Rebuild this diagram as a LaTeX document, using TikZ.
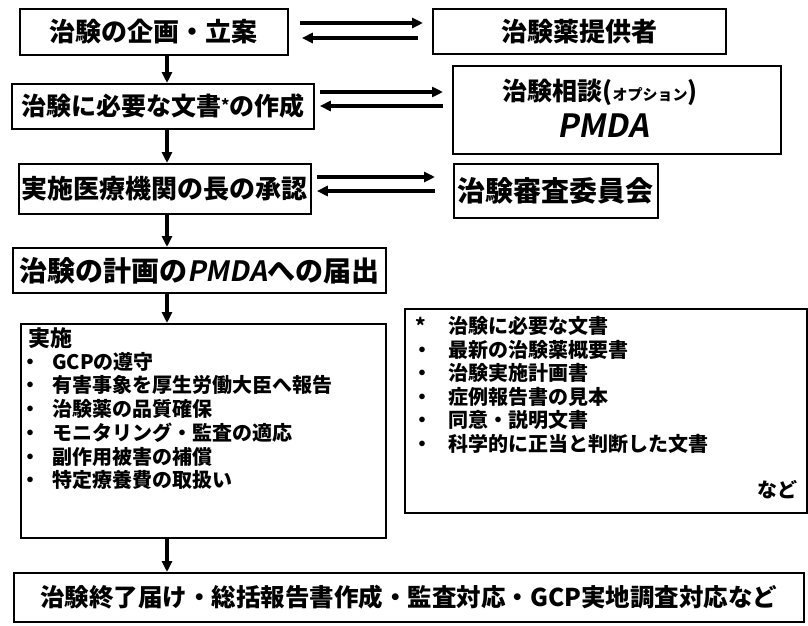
\documentclass[tikz,border=0pt]{standalone}
\usepackage{fontspec}
\setmainfont{Noto Sans CJK JP}[BoldFont={Noto Sans CJK JP Black}]
\newfontfamily\slantfont{Noto Sans CJK JP Black}[FakeSlant=0.18]
\usetikzlibrary{arrows.meta}
\tikzset{
  box/.style={draw, line width=1.8pt, inner sep=0pt, anchor=north west, align=center},
  arr/.style={line width=3.2pt, -{Triangle[length=11pt,width=10pt]}},
  fs/.style={font=\bfseries\fontsize{#1}{#1}\selectfont},
  item/.style={anchor=west, inner sep=0pt, font=\bfseries\fontsize{20}{20}\selectfont},
}
\newcommand{\bul}{\makebox[24pt][l]{\hspace{-8pt}・}}
\newcommand{\bulb}{\makebox[36pt][l]{・}}
\newcommand{\pmda}{{\slantfont PMDA}}
\begin{document}
\begin{tikzpicture}[x=1pt,y=-1pt]
\useasboundingbox (0,0) rectangle (808,626);
\fill[white] (0,0) rectangle (808,626);

\node[box, fs=26, minimum width=268pt, minimum height=46pt] (b1) at (19,8) {治験の企画・立案};
\node[box, fs=26, minimum width=293pt, minimum height=45pt] (b2) at (432,8) {治験薬提供者};
\node[box, fs=25, minimum width=302pt, minimum height=45pt] (b3) at (11,83)
  {治験に必要な文書{\fontsize{16}{16}\selectfont\raisebox{4pt}{*}}の作成};
\node[box, minimum width=328pt, minimum height=88pt] (b4) at (452,65) {};
\node[fs=25, inner sep=0pt] (b4a) at (600,92)
  {治験相談({\fontsize{15}{15}\selectfont オプション})};
\node[fs=32, inner sep=0pt] (b4b) at (603,126) {\pmda};
\node[box, fs=26, minimum width=292pt, minimum height=50pt] (b5) at (18,163) {実施医療機関の長の承認};
\node[box, fs=28, minimum width=204pt, minimum height=54pt] (b6) at (453,163) {治験審査委員会};
\node[box, fs=28, minimum width=373pt, minimum height=45pt] (b7) at (12,247) {治験の計画の\pmda への届出};

\node[box, minimum width=365pt, minimum height=214pt] (b8) at (20,323) {};
\node[item, font=\bfseries\fontsize{22}{22}\selectfont] (b8h) at (28,338) {実施};
\foreach \t [count=\i] in {GCPの遵守, 有害事象を厚生労働大臣へ報告, 治験薬の品質確保,
  モニタリング・監査の適応, 副作用被害の補償, 特定療養費の取扱い}
  \node[item] (b8i\i) at (28,{338+23.7*\i}) {\bul\t};

\node[box, minimum width=402pt, minimum height=204pt] (b9) at (404,308) {};
\node[item] (b9h) at (412,326) {\makebox[36pt][l]{\hspace{3pt}*}治験に必要な文書};
\foreach \t [count=\i] in {最新の治験薬概要書, 治験実施計画書, 症例報告書の見本,
  同意・説明文書, 科学的に正当と判断した文書}
  \node[item] (b9i\i) at (412,{326+23.5*\i}) {\bulb\t};
\node[item, anchor=east] (b9e) at (798,490) {など};

\node[box, fs=24.5, minimum width=790pt, minimum height=49pt] (b10) at (13,572)
  {治験終了届け・総括報告書作成・監査対応・GCP実地調査対応など};

% vertical flow
\coordinate (cx) at (167,0);
\draw[arr] (cx |- b1.south) -- (cx |- b3.north);
\draw[arr] (cx |- b3.south) -- (cx |- b5.north);
\draw[arr] (cx |- b5.south) -- (cx |- b7.north);
\draw[arr] (cx |- b7.south) -- (cx |- b8.north);
\draw[arr] (cx |- b8.south) -- (cx |- b10.north);

% horizontal exchanges
\coordinate (h1a) at (0,23);  \coordinate (h1b) at (0,38);
\coordinate (h2a) at (0,92);  \coordinate (h2b) at (0,106);
\coordinate (h3a) at (0,177); \coordinate (h3b) at (0,191);
\draw[arr, shorten <=11pt, shorten >=9pt] (b1.east |- h1a) -- (b2.west |- h1a);
\draw[arr, shorten <=14pt, shorten >=13pt] (b2.west |- h1b) -- (b1.east |- h1b);
\draw[arr, shorten <=5pt, shorten >=9pt] (b3.east |- h2a) -- (b4.west |- h2a);
\draw[arr, shorten <=9pt, shorten >=5pt] (b4.west |- h2b) -- (b3.east |- h2b);
\draw[arr, shorten <=5pt, shorten >=18pt] (b5.east |- h3a) -- (b6.west |- h3a);
\draw[arr, shorten <=18pt, shorten >=5pt] (b6.west |- h3b) -- (b5.east |- h3b);
\end{tikzpicture}
\end{document}
